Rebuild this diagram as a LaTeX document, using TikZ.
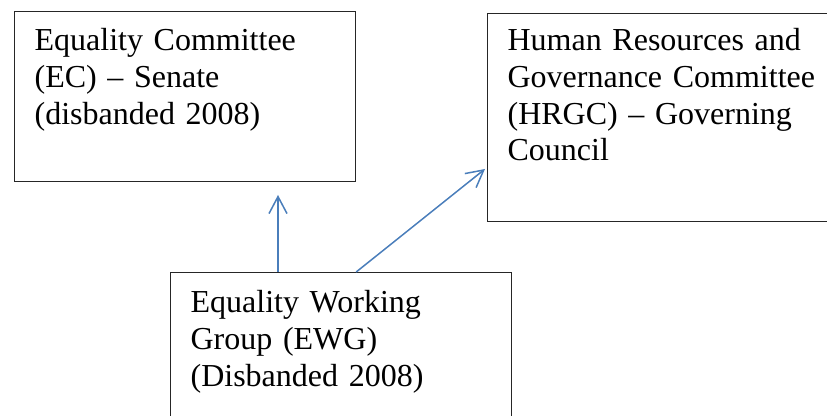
\documentclass[tikz,border=0pt]{standalone}
\usepackage{fontspec}
\setmainfont{Liberation Serif}
\usetikzlibrary{arrows.meta}
\definecolor{linkblue}{HTML}{4A7EBB}
\tikzset{
  orgbox/.style={draw=black!85, line width=0.6pt, anchor=north west, align=left,
    text width=150.5pt, inner xsep=10pt, inner ysep=0pt,
    font=\fontsize{16}{18.4}\selectfont},
  link/.style={draw=linkblue, line width=0.75pt, -{Straight Barb[length=8.5pt,width=9pt]}}
}
\begin{document}
\begin{tikzpicture}[x=0.5pt,y=-0.5pt]
  \useasboundingbox (0,0) rectangle (827,416);
  \clip (0,0) rectangle (827,416);
  % committees
  \node[orgbox, text height=19.5pt, text depth=65.5pt] (ec) at (14,11)
    {Equality Committee\\(EC) -- Senate\\(disbanded 2008)};
  \node[orgbox, text height=18.5pt, text depth=85.5pt] (hrgc) at (487,13)
    {Human Resources and\\\mbox{Governance Committee}\\(HRGC) -- Governing\\Council};
  \node[orgbox, text height=20pt, text depth=65pt] (ewg) at (170,272)
    {Equality Working\\Group (EWG)\\(Disbanded 2008)};
  % links
  \coordinate (ecin) at (278,195);
  \coordinate (hrgcin) at (485,169);
  \draw[link] (ewg.north -| ecin) -- (ecin);
  \draw[link] (ewg.north -| ec.east) -- (hrgcin);
\end{tikzpicture}
\end{document}
